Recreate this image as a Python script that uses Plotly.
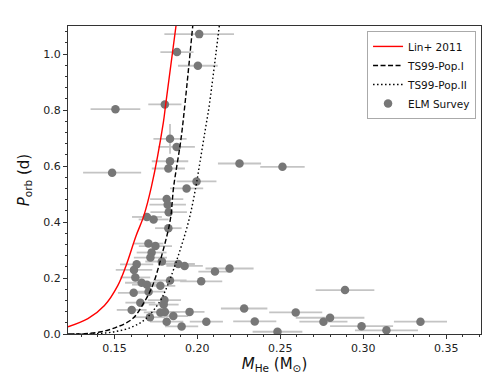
import plotly.graph_objects as go

# ELM Survey: He-core mass (Msun), orbital period (d), errors
m_he = [0.2011, 0.1877, 0.2003, 0.1804, 0.1506, 0.1835, 0.1875, 0.1835, 0.1825, 0.1486,
        0.2254, 0.2513, 0.1995, 0.1935, 0.1815, 0.1821, 0.1827, 0.1696, 0.1736, 0.1825,
        0.1705, 0.1747, 0.1724, 0.1717, 0.1786, 0.1634, 0.1618, 0.1885, 0.1923, 0.2106,
        0.2194, 0.1626, 0.1664, 0.1696, 0.1777, 0.1835, 0.2023, 0.1616, 0.1706, 0.1656,
        0.1604, 0.1801, 0.1797, 0.1777, 0.1804, 0.1714, 0.1953, 0.1855, 0.1815, 0.1905,
        0.2054, 0.2282, 0.2346, 0.2483, 0.2593, 0.2800, 0.2760, 0.2890, 0.2990, 0.3140,
        0.3345]
p_orb = [1.071, 1.007, 0.958, 0.820, 0.803, 0.697, 0.668, 0.617, 0.591, 0.576,
         0.609, 0.597, 0.545, 0.520, 0.482, 0.462, 0.435, 0.418, 0.409, 0.378,
         0.323, 0.314, 0.291, 0.273, 0.259, 0.249, 0.229, 0.250, 0.243, 0.223,
         0.234, 0.202, 0.183, 0.176, 0.172, 0.191, 0.188, 0.147, 0.151, 0.112,
         0.086, 0.121, 0.105, 0.077, 0.079, 0.060, 0.079, 0.064, 0.044, 0.027,
         0.044, 0.091, 0.045, 0.008, 0.077, 0.058, 0.044, 0.157, 0.028, 0.013,
         0.044]
m_err = [0.021, 0.010, 0.012, 0.010, 0.015, 0.010, 0.011, 0.011, 0.010, 0.0175,
         0.013, 0.0134, 0.012, 0.010, 0.010, 0.011, 0.011, 0.009, 0.009, 0.008,
         0.009, 0.010, 0.009, 0.010, 0.010, 0.010, 0.011, 0.010, 0.011, 0.010,
         0.0145, 0.009, 0.010, 0.009, 0.009, 0.010, 0.0127, 0.0095, 0.010, 0.009,
         0.009, 0.010, 0.009, 0.010, 0.009, 0.009, 0.009, 0.009, 0.010, 0.010,
         0.010, 0.014, 0.013, 0.015, 0.016, 0.0207, 0.0145, 0.0177, 0.019, 0.019,
         0.016]
p_err = [0.0] * len(m_he)
p_err[5] = 0.053

# Lin+ 2011 relation
lin_m = [0.122, 0.134, 0.144, 0.152, 0.157, 0.163, 0.1676, 0.1723, 0.1795, 0.1809, 0.1871]
lin_p = [0.026, 0.055, 0.102, 0.173, 0.244, 0.350, 0.420, 0.526, 0.756, 0.820, 1.100]

# Tauris & Savonije 1999, Pop. I
ts1_m = [0.122, 0.132, 0.142, 0.152, 0.161, 0.168, 0.173, 0.179, 0.1837, 0.1857, 0.190, 0.1923, 0.1972]
ts1_p = [0.000, 0.001, 0.008, 0.026, 0.055, 0.114, 0.173, 0.291, 0.409, 0.526, 0.691, 0.809, 1.100]

# Tauris & Savonije 1999, Pop. II
ts2_m = [0.125, 0.138, 0.150, 0.161, 0.169, 0.1771, 0.182, 0.1891, 0.195, 0.1991, 0.2011, 0.2055, 0.207, 0.2132]
ts2_p = [0.000, 0.001, 0.008, 0.026, 0.055, 0.114, 0.173, 0.291, 0.409, 0.526, 0.597, 0.756, 0.809, 1.100]

fig = go.Figure()

fig.add_trace(go.Scatter(
    x=m_he, y=p_orb, mode='markers', name='ELM Survey', legendrank=4,
    marker=dict(color='#777777', size=8.5),
    error_x=dict(type='data', array=m_err, color='#c4c4c4', thickness=1.8, width=0),
    error_y=dict(type='data', array=p_err, color='#c4c4c4', thickness=1.8, width=0),
))
fig.add_trace(go.Scatter(x=lin_m, y=lin_p, mode='lines', name='Lin+ 2011', legendrank=1,
                         line=dict(color='red', width=1.4, shape='spline')))
fig.add_trace(go.Scatter(x=ts1_m, y=ts1_p, mode='lines', name='TS99-Pop.I', legendrank=2,
                         line=dict(color='black', width=1.4, dash='5px,2.5px', shape='spline')))
fig.add_trace(go.Scatter(x=ts2_m, y=ts2_p, mode='lines', name='TS99-Pop.II', legendrank=3,
                         line=dict(color='black', width=1.4, dash='1.5px,2.5px', shape='spline')))

axis_common = dict(
    showgrid=False, zeroline=False, showline=True, linecolor='#333333', linewidth=1,
    mirror=True, ticks='outside', ticklen=4, tickwidth=1, tickcolor='#333333',
    tickfont=dict(size=11, color='#222222'),
)

fig.update_xaxes(
    range=[0.122, 0.371], tickvals=[0.15, 0.20, 0.25, 0.30, 0.35],
    ticktext=['0.15', '0.20', '0.25', '0.30', '0.35'],
    minor=dict(dtick=0.01, tick0=0.0, ticks='outside', ticklen=2, tickcolor='#333333'),
    title=dict(text='<i>M</i><sub>He</sub> (M<sub>⊙</sub>)', font=dict(size=15), standoff=4),
    **axis_common,
)
fig.update_yaxes(
    range=[0, 1.1], tickvals=[0.0, 0.2, 0.4, 0.6, 0.8, 1.0],
    ticktext=['0.0', '0.2', '0.4', '0.6', '0.8', '1.0'],
    minor=dict(dtick=0.04, tick0=0.0, ticks='outside', ticklen=2, tickcolor='#333333'),
    title=dict(text='<i>P</i><sub>orb</sub> (d)', font=dict(size=15), standoff=10),
    **axis_common,
)

fig.update_layout(
    width=498, height=374,
    margin=dict(l=60, r=25, t=18, b=45),
    plot_bgcolor='white', paper_bgcolor='white',
    font=dict(family='DejaVu Sans', color='#111111'),
    legend=dict(x=0.988, y=0.984, xanchor='right', yanchor='top',
                bgcolor='white', bordercolor='#aaaaaa', borderwidth=1,
                font=dict(size=10.5), tracegroupgap=0, itemwidth=30),
    showlegend=True,
)

fig.write_html("out.html")
